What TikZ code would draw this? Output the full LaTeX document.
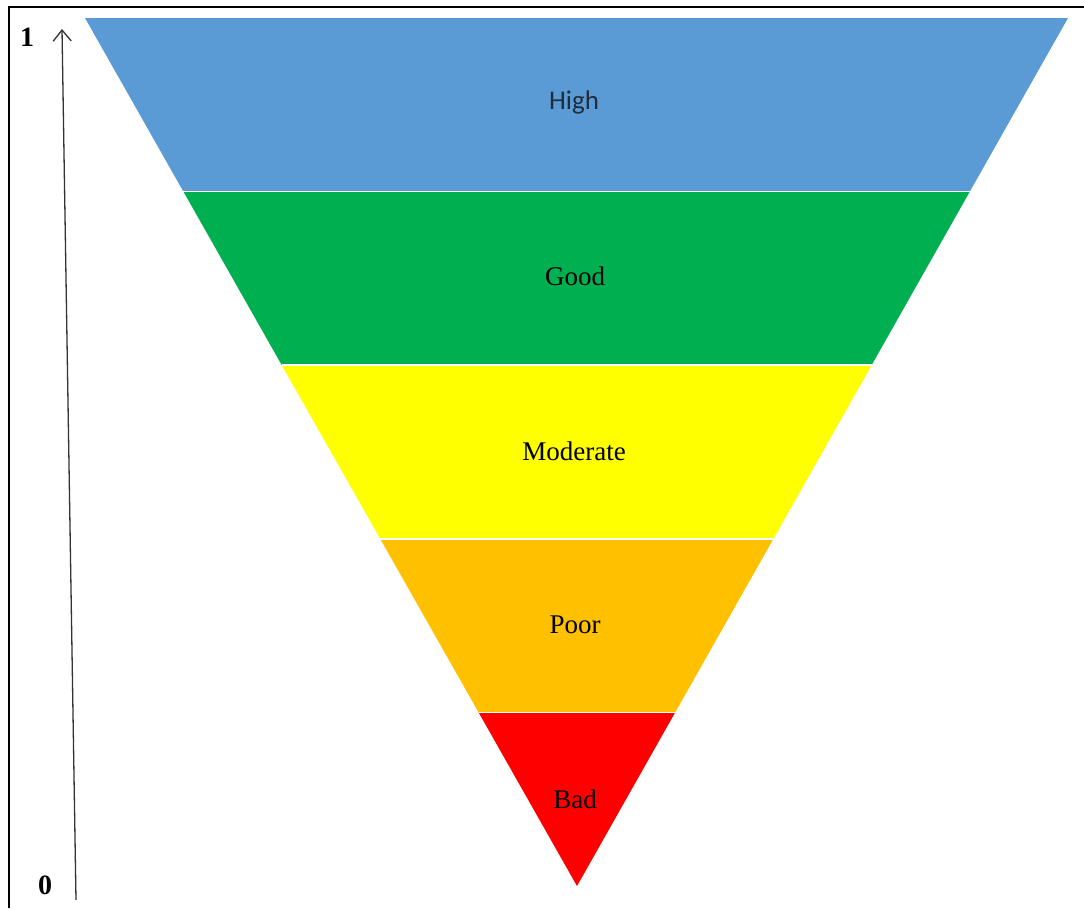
\documentclass[tikz,border=0pt]{standalone}
\usepackage{fontspec}
\setmainfont{Liberation Serif}
\newfontfamily\calib{Carlito}
\usetikzlibrary{arrows.meta}
\definecolor{cHigh}{HTML}{5B9BD5}
\definecolor{cGood}{HTML}{00B050}
\definecolor{cMod}{HTML}{FFFF00}
\definecolor{cPoor}{HTML}{FFC000}
\definecolor{cBad}{HTML}{FF0000}
\definecolor{cHighTxt}{HTML}{1F2D3D}
\tikzset{
  lbl/.style={font=\fontsize{27}{29}\selectfont, text=black, inner sep=0pt},
  axlbl/.style={font=\fontsize{28}{30}\selectfont\bfseries, inner sep=0pt},
  frame/.style={line width=2pt, black},
  axis/.style={line width=1.3pt, black!80, -{Straight Barb[length=11pt,width=18pt,line width=1.3pt]}}
}
\begin{document}
\begin{tikzpicture}[x=1pt,y=-1pt]
\useasboundingbox (0,0) rectangle (1084,908);
\fill[white] (0,0) rectangle (1084,908);
% frame (top and left)
\draw[frame] (9,908) -- (9,7) -- (1084,7);
% funnel bands
\coordinate (L0) at (85,18);   \coordinate (R0) at (1068,18);
\coordinate (L1) at (183.4,191.6); \coordinate (R1) at (969.8,191.6);
\coordinate (L2) at (281.8,365.2); \coordinate (R2) at (871.6,365.2);
\coordinate (L3) at (380.2,538.8); \coordinate (R3) at (773.4,538.8);
\coordinate (L4) at (478.6,712.4); \coordinate (R4) at (675.2,712.4);
\coordinate (apex) at (577,886);
\fill[cHigh] (L0) -- (R0) -- (R1) -- (L1) -- cycle;
\fill[cGood] (L1) -- (R1) -- (R2) -- (L2) -- cycle;
\fill[cMod] (L2) -- (R2) -- (R3) -- (L3) -- cycle;
\fill[cPoor] (L3) -- (R3) -- (R4) -- (L4) -- cycle;
\fill[cBad] (L4) -- (R4) -- (apex) -- cycle;
\draw[white, line width=1.6pt] (L1) -- (R1) (L2) -- (R2) (L3) -- (R3) (L4) -- (R4);
% labels
\node[lbl, font=\calib\fontsize{27}{29}\selectfont, text=cHighTxt] (high) at (574,102) {High};
\node[lbl] (good) at (575,276) {Good};
\node[lbl] (mod) at (574,451) {Moderate};
\node[lbl] (poor) at (575,625) {Poor};
\node[lbl] (bad) at (575,799) {Bad};
% axis
\coordinate (a0) at (76,900);
\coordinate (a1) at (62,29);
\draw[axis] (a0) -- (a1);
\node[axlbl] (one) at (27,37) {1};
\node[axlbl] (zero) at (45,885) {0};
\end{tikzpicture}
\end{document}
